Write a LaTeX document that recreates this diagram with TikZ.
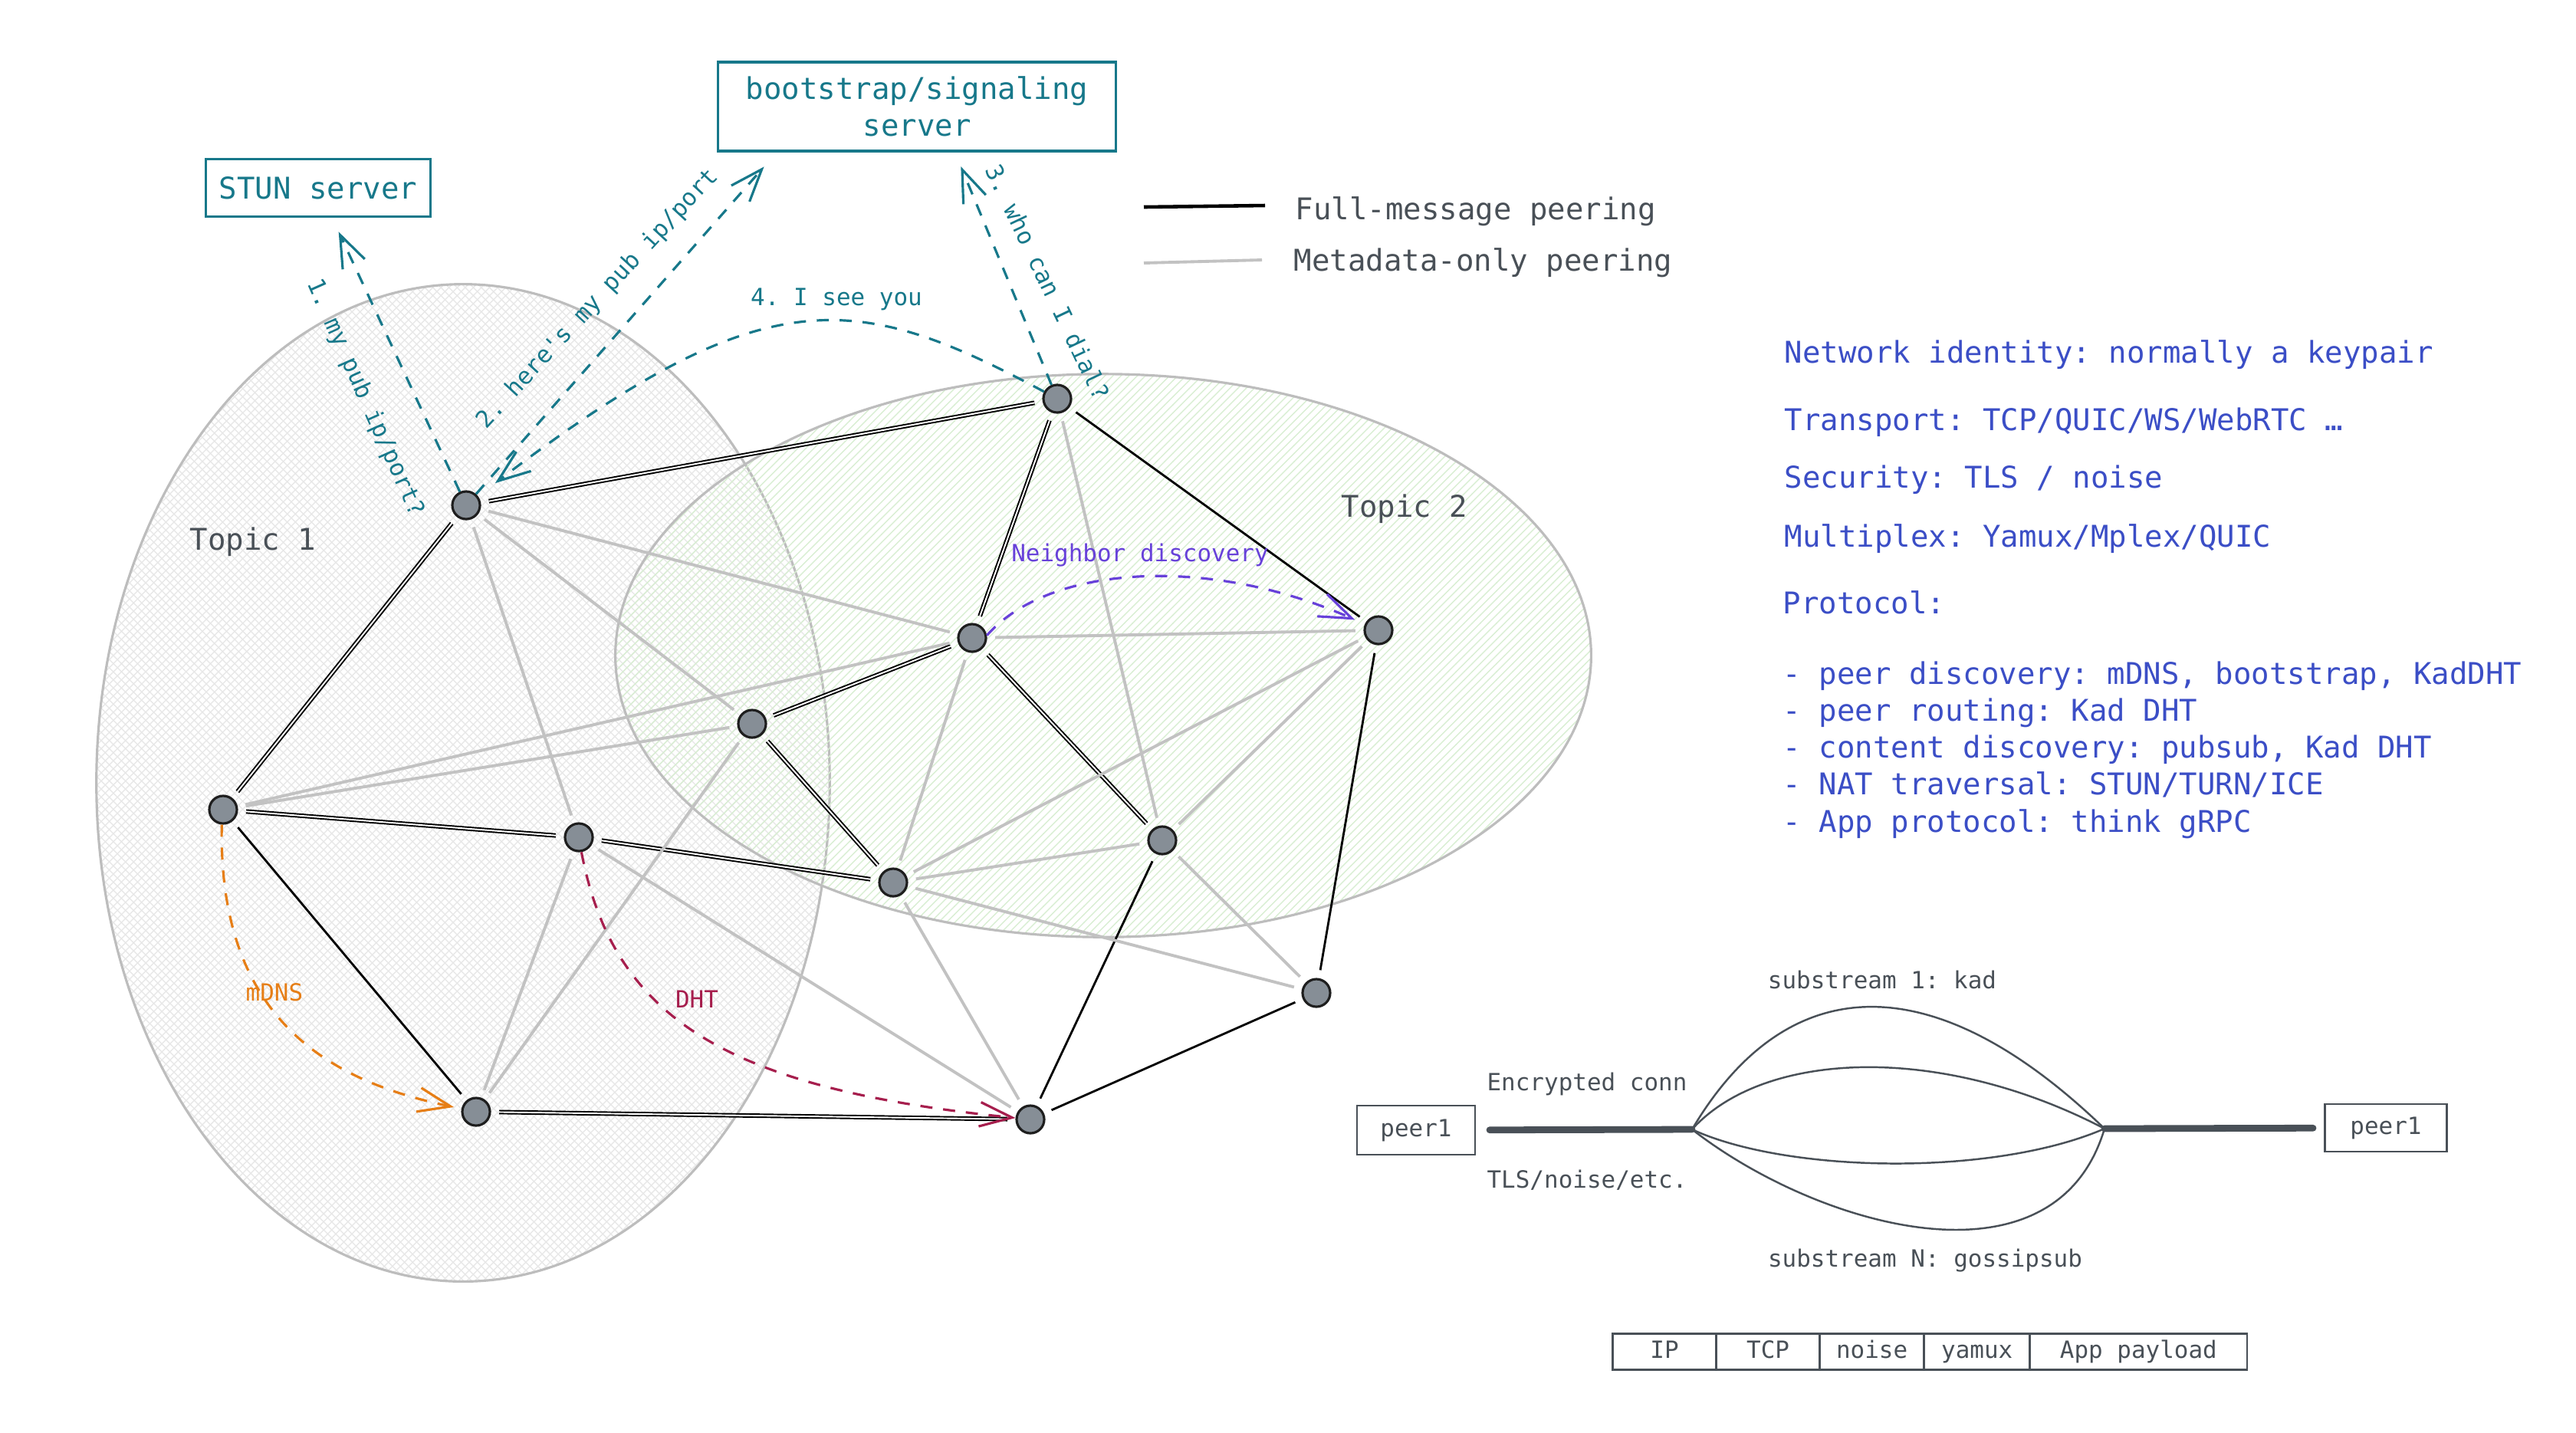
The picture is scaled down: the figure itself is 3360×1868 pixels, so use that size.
\documentclass[tikz,border=0pt]{standalone}
\usepackage{fontspec}
\setmonofont{DejaVu Sans Mono}
\usetikzlibrary{arrows.meta,patterns,positioning,calc}

\definecolor{sigteal}{HTML}{17788A}
\definecolor{infoblue}{HTML}{3B4EC6}
\definecolor{nbviolet}{HTML}{6741D9}
\definecolor{mdnsorange}{HTML}{E67E16}
\definecolor{dhtred}{HTML}{A61E4D}
\definecolor{inkgray}{HTML}{495057}
\definecolor{nodefill}{HTML}{868E96}
\definecolor{nodeline}{HTML}{1E1E1E}
\definecolor{metagray}{HTML}{C2C2C2}
\definecolor{topicline}{HTML}{BDBDBD}
\definecolor{hatchgray}{HTML}{E8E8E8}
\definecolor{hatchgreen}{HTML}{D9EED3}

\tikzset{
  bigtext/.style={font=\ttfamily\fontsize{11.1}{13.7}\selectfont},
  smalltext/.style={font=\ttfamily\fontsize{8.8}{11}\selectfont},
  topic/.style={draw=topicline, line width=0.9pt},
  topiclabel/.style={bigtext, text=inkgray},
  peer/.style={circle, draw=nodeline, fill=nodefill, line width=0.9pt,
    minimum size=0.36cm, inner sep=0pt},
  fullpeer/.style={draw=black, line width=0.8pt, shorten <=3pt, shorten >=3pt},
  fulldbl/.style={draw=black, line width=0.55pt, double=white,
    double distance=0.55pt, shorten <=3pt, shorten >=3pt},
  metapeer/.style={draw=metagray, line width=1.1pt, shorten <=3pt, shorten >=3pt},
  hint/.style={line width=0.9pt, dash pattern=on 4.5pt off 4pt,
    -{Straight Barb[length=12pt,width=9pt]}},
  hintlabel/.style={smalltext, inner sep=1pt},
  server/.style={draw=sigteal, line width=0.9pt, text=sigteal, bigtext},
  legendtext/.style={bigtext, text=inkgray, anchor=west, inner sep=0pt},
  info/.style={bigtext, text=infoblue, anchor=west, inner sep=0pt},
  peerbox/.style={draw=inkgray, line width=0.8pt, smalltext, text=inkgray},
  conn/.style={draw=inkgray, line width=2.5pt, line cap=round},
  substream/.style={draw=inkgray, line width=0.7pt},
  connlabel/.style={smalltext, text=inkgray},
  pkt/.style={draw=inkgray, line width=0.8pt, smalltext, text=inkgray,
    minimum height=0.47cm, inner sep=0pt, outer sep=0pt,
    text height=1.6ex, text depth=0.45ex},
}

\begin{document}
\begin{tikzpicture}[x=0.01cm, y=-0.01cm, bigtext]
  \useasboundingbox (0,0) rectangle (3360,1868);

  % the two topics
  \draw[topic, pattern=crosshatch, pattern color=hatchgray]
    (604,1021) ellipse [x radius=4.78cm, y radius=6.5cm];
  \draw[topic, pattern=north east lines, pattern color=hatchgreen]
    (1439,855) ellipse [x radius=6.36cm, y radius=3.67cm];
  \node[topiclabel] (topic1) at (330,707) {Topic 1};
  \node[topiclabel] (topic2) at (1832,664) {Topic 2};

  % servers
  \node[server, minimum width=2.93cm, minimum height=0.75cm] (stun) at (415,245) {STUN server};
  \node[server, minimum width=5.19cm, minimum height=1.16cm, align=center]
    (boot) at (1196,139) {bootstrap/signaling\\server};

  % peers
  \foreach \n/\x/\y in {A/608/659, B/1379/520, C/291/1056, D/755/1092,
      E/981/944, F/1268/832, G/1798/822, H/1165/1151, I/1516/1096,
      J/1717/1295, K/621/1450, L/1344/1460}
    \node[peer] (\n) at (\x,\y) {};

  % full-message peering
  \foreach \a/\b in {A/B, A/C, C/D, D/H, E/F, E/H, K/L, B/F, F/I}
    \draw[fulldbl] (\a) -- (\b);
  \foreach \a/\b in {C/K, B/G, G/J, J/L, I/L}
    \draw[fullpeer] (\a) -- (\b);
  % metadata-only peering
  \foreach \a/\b in {A/F, A/E, A/D, C/E, C/F, D/K, E/K, D/L, H/L, F/H,
      F/G, B/I, G/H, G/I, H/I, H/J, I/J}
    \draw[metapeer] (\a) -- (\b);

  % hole punching
  \draw[hint, sigteal, shorten >=0.2cm] (A) -- (stun);
  \draw[hint, sigteal, shorten >=0.25cm] (A) -- ($(boot.south west)!0.15!(boot.south east)$);
  \draw[hint, sigteal, shorten >=0.2cm] (B) -- ($(boot.south west)!0.595!(boot.south east)$);
  \draw[hint, sigteal, shorten >=0.28cm] (B) .. controls (1117,380) and (1000,360) .. (A);
  \node[hintlabel, text=sigteal, rotate=-66] (ask1) at (476,519) {1. my pub ip/port?};
  \node[hintlabel, text=sigteal, rotate=47.3] (ask2) at (780,390) {2. here's my pub ip/port};
  \node[hintlabel, text=sigteal, rotate=-64.6] (ask3) at (1367,368) {3. who can I dial?};
  \node[hintlabel, text=sigteal] (ask4) at (1091,390) {4. I see you};

  % discovery
  \draw[hint, mdnsorange, shorten >=0.1cm] (C.265) .. controls (284,1330) and (430,1410) .. (K);
  \draw[hint, dhtred] (D.280) .. controls (800,1330) and (950,1420) .. (L);
  \draw[hint, nbviolet, shorten >=0.14cm] (F.10) .. controls (1370,735) and (1580,725) .. (G);
  \node[hintlabel, text=mdnsorange] (mdns) at (358,1294) {mDNS};
  \node[hintlabel, text=dhtred] (dht) at (909,1303) {DHT};
  \node[hintlabel, text=nbviolet] (nbdisc) at (1487,724) {Neighbor discovery};

  % legend
  \node[legendtext] (lgfull) at (1689,276) {Full-message peering};
  \node[legendtext] (lgmeta) at (1687,343) {Metadata-only peering};
  \draw[draw=black, line width=1.3pt] ($(lgfull.west)+(-197,-6)$) -- ($(lgfull.west)+(-39,-8)$);
  \draw[draw=metagray, line width=1.1pt] ($(lgmeta.west)+(-195,0)$) -- ($(lgmeta.west)+(-41,-4)$);

  % stack
  \node[info] (netid) at (2327,463) {Network identity: normally a keypair};
  \node[info] (transport) at (2327,551) {Transport: TCP/QUIC/WS/WebRTC …};
  \node[info] (security) at (2327,626) {Security: TLS / noise};
  \node[info] (muxer) at (2327,703) {Multiplex: Yamux/Mplex/QUIC};
  \node[info] (protocol) at (2325,786) {Protocol:};
  \node[info, align=left] (protolist) at (2325,978)
    {- peer discovery: mDNS, bootstrap, KadDHT\\
     - peer routing: Kad DHT\\
     - content discovery: pubsub, Kad DHT\\
     - NAT traversal: STUN/TURN/ICE\\
     - App protocol: think gRPC};

  % one connection, many substreams
  \node[peerbox, minimum width=1.54cm, minimum height=0.64cm] (peerL) at (1847,1474) {peer1};
  \node[peerbox, minimum width=1.59cm, minimum height=0.62cm] (peerR) at (3112,1471) {peer1};
  \coordinate (jl) at (2207,1473);
  \coordinate (jr) at (2745,1472);
  \draw[conn, shorten <=5pt] (peerL) -- (jl);
  \draw[conn, shorten >=4pt] (jr) -- (peerR);
  \draw[substream] (jl) .. controls (2330,1265) and (2520,1255) .. (jr);
  \draw[substream] (jl) .. controls (2300,1370) and (2530,1360) .. (jr);
  \draw[substream] (jl) .. controls (2330,1530) and (2600,1535) .. (jr);
  \draw[substream] (jl) .. controls (2370,1600) and (2680,1690) .. (jr);
  \node[connlabel] (sub1) at (2455,1278) {substream 1: kad};
  \node[connlabel] (subn) at (2511,1644) {substream N: gossipsub};
  \node[connlabel] (enc) at (2070,1414) {Encrypted conn};
  \node[connlabel] (tls) at (2070,1539) {TLS/noise/etc.};

  % packet layout
  \node[pkt, minimum width=1.35cm] (ip) at (2171,1763) {IP};
  \node[pkt, minimum width=1.35cm, right=0pt of ip] (tcp) {TCP};
  \node[pkt, minimum width=1.36cm, right=0pt of tcp] (noise) {noise};
  \node[pkt, minimum width=1.38cm, right=0pt of noise] (yamux) {yamux};
  \node[pkt, minimum width=2.83cm, right=0pt of yamux] (app) {App payload};
\end{tikzpicture}
\end{document}
